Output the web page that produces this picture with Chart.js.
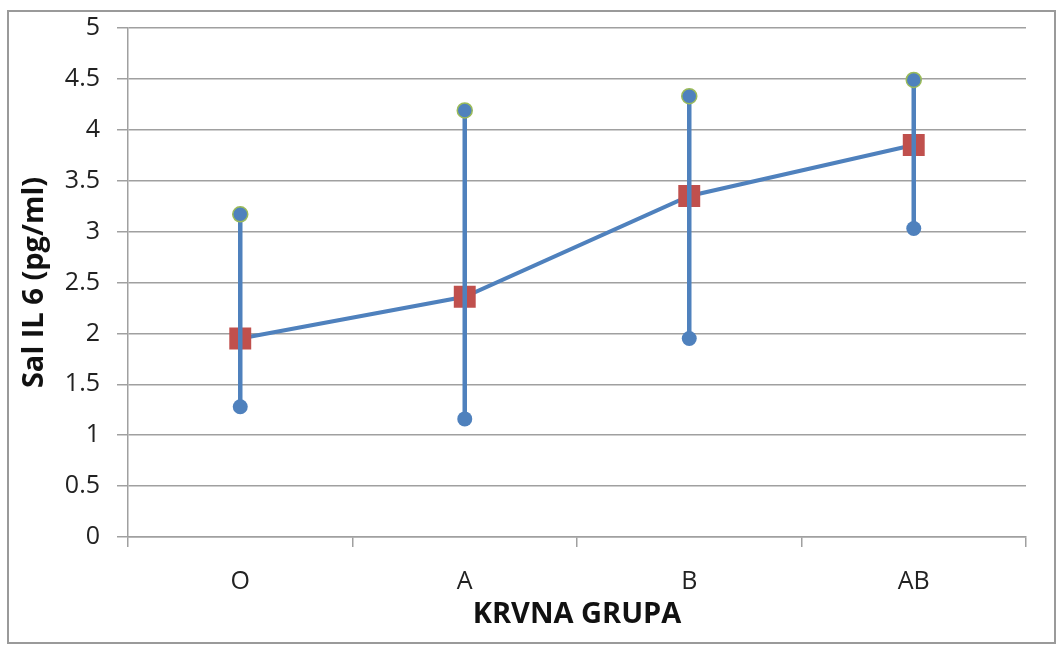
<!DOCTYPE html>
<html>
<head>
<meta charset="utf-8">
<script src="https://cdn.jsdelivr.net/npm/chart.js@4/dist/chart.umd.min.js"></script>
<style>
  html, body { margin: 0; padding: 0; background: #fff; }
  #wrap { position: relative; width: 1057px; height: 647px; }
  #frame { position: absolute; left: 7px; top: 10px; width: 1045px; height: 630px; border: 2px solid #9a9a9a; pointer-events: none; }
</style>
</head>
<body>
<div id="wrap">
  <canvas id="chart" width="1057" height="647"></canvas>
  <div id="frame"></div>
</div>
<script>
// data
let groups = ['O', 'A', 'B', 'AB'];
let meanVals = [1.95, 2.36, 3.35, 3.85];
let maxVals = [3.17, 4.19, 4.33, 4.49];
let minVals = [1.28, 1.16, 1.95, 3.03];
let yTicks = [0, 0.5, 1, 1.5, 2, 2.5, 3, 3.5, 4, 4.5, 5];

let blue = '#4F81BD';
let red = '#C0504D';
let green = '#9BBB59';
let gridColor = '#a0a0a0';
let fontFam = '"Open Sans", "DejaVu Sans", sans-serif';

// one small line per group, min to max
let errorSets = groups.map((g, i) => ({
    type: 'line',
    data: [{x: g, y: minVals[i]}, {x: g, y: maxVals[i]}],
    borderColor: blue,
    borderWidth: 4.5,
    pointRadius: 0,
    fill: false
}));

let datasets = [
    {
        type: 'line',
        label: 'max',
        data: groups.map((g, i) => ({x: g, y: maxVals[i]})),
        showLine: false,
        pointStyle: 'circle',
        pointRadius: 7.5,
        pointBackgroundColor: blue,
        pointBorderColor: green,
        pointBorderWidth: 1.5
    },
    {
        type: 'line',
        label: 'min',
        data: groups.map((g, i) => ({x: g, y: minVals[i]})),
        showLine: false,
        pointStyle: 'circle',
        pointRadius: 7.5,
        pointBackgroundColor: blue,
        pointBorderColor: blue,
        pointBorderWidth: 0
    }
].concat(errorSets).concat([
    {
        type: 'line',
        label: 'mean',
        data: meanVals,
        borderColor: blue,
        borderWidth: 4,
        pointStyle: 'rect',
        pointRadius: 15.5,
        pointBackgroundColor: red,
        pointBorderColor: red,
        pointBorderWidth: 0,
        fill: false,
        tension: 0
    }
]);

new Chart(document.getElementById('chart').getContext('2d'), {
    data: { labels: groups, datasets: datasets },
    options: {
        responsive: false,
        animation: false,
        layout: { padding: { left: 0, top: 28, right: 31, bottom: 0 } },
        plugins: {
            legend: { display: false },
            tooltip: { enabled: false }
        },
        scales: {
            x: {
                type: 'category',
                offset: true,
                grid: {
                    offset: true,
                    drawOnChartArea: false,
                    drawTicks: true,
                    tickLength: 10,
                    color: gridColor,
                    lineWidth: 1.5
                },
                border: { color: gridColor, width: 1.5 },
                ticks: {
                    color: '#222',
                    padding: 20,
                    font: { family: fontFam, size: 25 }
                },
                title: {
                    display: true,
                    text: 'KRVNA GRUPA',
                    color: '#111',
                    font: { family: fontFam, size: 29, weight: 'bold' },
                    padding: { top: 4, bottom: 15 }
                },
                afterFit: function (scale) { scale.height = 110; }
            },
            y: {
                min: 0,
                max: 5,
                afterBuildTicks: function (scale) {
                    scale.ticks = yTicks.map(v => ({ value: v }));
                },
                grid: {
                    color: gridColor,
                    lineWidth: 1.5,
                    drawTicks: true,
                    tickLength: 11
                },
                border: { color: gridColor, width: 1.5 },
                ticks: {
                    color: '#222',
                    padding: 17,
                    font: { family: fontFam, size: 25 },
                    callback: function (v) { return String(v); }
                },
                title: {
                    display: true,
                    text: 'Sal IL 6 (pg/ml)',
                    color: '#111',
                    font: { family: fontFam, size: 29, weight: 'bold' },
                    padding: { top: 17, bottom: 17 }
                },
                afterFit: function (scale) {
                    scale.width = 128;
                    scale.paddingTop = 0;
                    scale.paddingBottom = 0;
                }
            }
        }
    }
});
</script>
</body>
</html>
